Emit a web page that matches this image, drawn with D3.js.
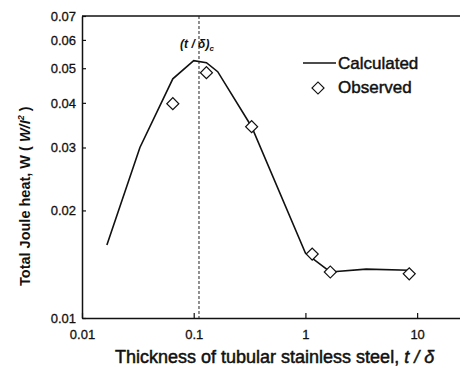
<!DOCTYPE html>
<html>
<head>
<meta charset="utf-8">
<script src="https://cdn.jsdelivr.net/npm/d3@7"></script>
<style>
  body { margin: 0; background: #fff; }
  svg { font-family: "Liberation Sans", Arial, sans-serif; }
</style>
</head>
<body>
<div id="chart"></div>
<script>
// calculated curve (t/delta, W)
var calcX = [0.0167, 0.033, 0.065, 0.1, 0.13, 0.164, 0.33, 1.0, 1.67, 3.5, 8.5];
var calcY = [0.016, 0.030, 0.0467, 0.0525, 0.0518, 0.0489, 0.0343, 0.0152, 0.01345, 0.0137, 0.0136];

// observed points
var obsX = [0.065, 0.13, 0.33, 1.15, 1.67, 8.5];
var obsY = [0.0398, 0.0486, 0.0343, 0.0151, 0.01345, 0.01329];

var xTicks = [0.01, 0.1, 1, 10];
var xTickLabels = ["0.01", "0.1", "1", "10"];
var yTicks = [0.01, 0.02, 0.03, 0.04, 0.05, 0.06, 0.07];
var criticalX = 0.1115;

var svgWidth = 460, svgHeight = 369;
var margin = { top: 16, right: 0, bottom: 51, left: 82 };
var width = svgWidth - margin.left - margin.right;
var height = svgHeight - margin.top - margin.bottom;

var svg = d3.select("#chart").append("svg")
    .attr("width", svgWidth)
    .attr("height", svgHeight);

var g = svg.append("g")
    .attr("transform", `translate(${margin.left}, ${margin.top})`);

var x = d3.scaleLog().domain([0.01, 24.2]).range([0, width]);
var y = d3.scaleLog().domain([0.01, 0.07]).range([height, 0]);

// axes, ticks inside
var bottomAxis = d3.axisBottom(x).tickValues(xTicks)
    .tickFormat((d, i) => xTickLabels[i]).tickSizeInner(-5).tickSizeOuter(0).tickPadding(12);
var leftAxis = d3.axisLeft(y).tickValues(yTicks)
    .tickFormat(d3.format(".2f")).tickSizeInner(-4).tickSizeOuter(0).tickPadding(6);

var xAxis = g.append("g")
    .attr("transform", `translate(0, ${height})`)
    .call(bottomAxis);
var yAxis = g.append("g").call(leftAxis);

[xAxis, yAxis].forEach(function(a) {
  a.select(".domain").attr("stroke", "#111").attr("stroke-width", 1.5);
  a.selectAll(".tick line").attr("stroke", "#111").attr("stroke-width", 1.2);
  a.selectAll("text").attr("font-size", 13).attr("fill", "#111")
    .attr("font-family", "Liberation Sans, Arial, sans-serif")
    .attr("stroke", "#111").attr("stroke-width", 0.3);
});

// top frame line
g.append("line")
    .attr("x1", 0).attr("x2", width)
    .attr("y1", 0).attr("y2", 0)
    .attr("stroke", "#111").attr("stroke-width", 1.5);

// critical thickness marker
g.append("line")
    .attr("x1", x(criticalX)).attr("x2", x(criticalX))
    .attr("y1", 0).attr("y2", height)
    .attr("stroke", "#222").attr("stroke-width", 1)
    .attr("stroke-dasharray", "3,2");

var crit = g.append("text")
    .attr("x", x(criticalX) - 2).attr("y", 32)
    .attr("text-anchor", "middle")
    .attr("font-size", 12).attr("font-weight", "bold").attr("font-style", "italic")
    .attr("fill", "#111");
crit.append("tspan").text("(t / δ)");
crit.append("tspan").attr("font-size", 8).attr("dy", 3).text("c");

// calculated line
var line = d3.line()
    .x((d, i) => x(calcX[i]))
    .y(d => y(d));

g.append("path")
    .datum(calcY)
    .attr("fill", "none")
    .attr("stroke", "#111")
    .attr("stroke-width", 1.6)
    .attr("d", line);

// observed diamonds
var diamond = d3.symbol().type(d3.symbolSquare).size(72);
g.selectAll(".obs")
    .data(obsY)
    .enter()
    .append("path")
    .attr("class", "obs")
    .attr("d", diamond)
    .attr("transform", (d, i) => `translate(${x(obsX[i])}, ${y(d)}) rotate(45)`)
    .attr("fill", "#fff")
    .attr("stroke", "#111")
    .attr("stroke-width", 1.2);

// legend
var legend = svg.append("g").attr("transform", "translate(303, 63)");
legend.append("line")
    .attr("x1", 0).attr("x2", 33).attr("y1", 0).attr("y2", 0)
    .attr("stroke", "#111").attr("stroke-width", 1.5);
legend.append("text")
    .attr("x", 35).attr("y", 6)
    .attr("font-size", 17).attr("fill", "#111")
    .attr("stroke", "#111").attr("stroke-width", 0.45)
    .text("Calculated");
legend.append("path")
    .attr("d", diamond)
    .attr("transform", "translate(15, 25) rotate(45)")
    .attr("fill", "#fff").attr("stroke", "#111").attr("stroke-width", 1.2);
legend.append("text")
    .attr("x", 35).attr("y", 30)
    .attr("font-size", 17).attr("fill", "#111")
    .attr("stroke", "#111").attr("stroke-width", 0.45)
    .text("Observed");

// axis titles
var xTitle = svg.append("text")
    .attr("x", 115).attr("y", 363)
    .attr("font-size", 18).attr("fill", "#111")
    .attr("stroke", "#111").attr("stroke-width", 0.5);
xTitle.append("tspan").text("Thickness of tubular stainless steel, ");
xTitle.append("tspan").attr("font-style", "italic").text("t / δ");

var yTitle = svg.append("text")
    .attr("transform", "translate(30, 286) rotate(-90)")
    .attr("font-size", 14.5).attr("font-weight", "bold").attr("fill", "#111");
yTitle.append("tspan").text("Total Joule heat, W ( ");
yTitle.append("tspan").attr("font-style", "italic").text("W/I");
yTitle.append("tspan").attr("font-size", 9).attr("dy", -6).attr("font-style", "italic").text("2");
yTitle.append("tspan").attr("dy", 6).text(" )");
</script>
</body>
</html>
